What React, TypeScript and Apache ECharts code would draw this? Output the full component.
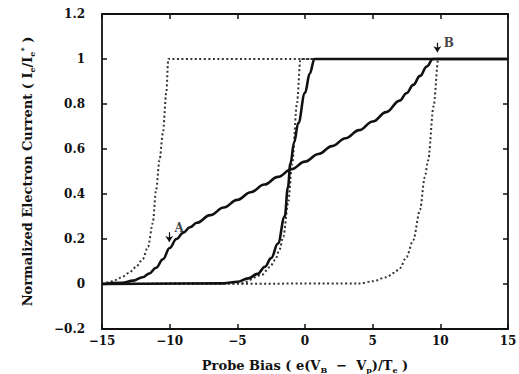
import React, { useEffect, useRef } from "react";
import * as echarts from "echarts";

// x range / ticks
const xMin = -15;
const xMax = 15;
const xStep = 5;
const yMin = -0.2;
const yMax = 1.2;
const yStep = 0.2;

// Dotted reference curves [x, y]
const dottedLeft: [number, number][] = [
  [-15, 0], [-14.5, 0.008], [-14, 0.018], [-13.5, 0.032], [-13, 0.05], [-12.5, 0.075],
  [-12, 0.11], [-11.6, 0.165], [-11.25, 0.27], [-11, 0.42], [-10.75, 0.55], [-10.5, 0.67],
  [-10.25, 0.85], [-10.1, 1], [15, 1],
];
const dottedMiddle: [number, number][] = [
  [-15, 0], [-4.7, 0.003], [-3.2, 0.04], [-2.6, 0.075], [-2.2, 0.107], [-1.9, 0.15], [-1.6, 0.21],
  [-1.25, 0.36], [-0.94, 0.536], [-0.6, 0.8], [-0.33, 1], [15, 1],
];
const dottedRight: [number, number][] = [
  [-15, 0], [4, 0.002], [5, 0.012], [6, 0.03], [6.6, 0.05], [7, 0.07], [7.5, 0.12],
  [8, 0.195], [8.5, 0.33], [8.85, 0.475], [9.1, 0.55], [9.5, 0.79], [9.85, 1], [15, 1],
];

// Solid measured curves [x, y]
const solidSteep: [number, number][] = [
  [-15, 0], [-6, 0.003], [-5, 0.01], [-4.2, 0.025], [-3.5, 0.045], [-2.96, 0.077],
  [-2.5, 0.115], [-2, 0.18], [-1.5, 0.3], [-1.26, 0.43], [-1.08, 0.535], [-0.8, 0.63],
  [-0.5, 0.715], [0, 0.85], [0.35, 0.935], [0.7, 1], [15, 1],
];
const solidGradual: [number, number][] = [
  [-15, 0], [-13.5, 0.005], [-12.7, 0.015], [-12, 0.03], [-11.5, 0.047], [-11, 0.072],
  [-10.5, 0.11], [-10, 0.16], [-9.5, 0.2], [-9, 0.228], [-8.5, 0.252], [-8, 0.272],
  [-7, 0.306], [-6, 0.34], [-5, 0.374], [-4, 0.408], [-3, 0.442], [-2, 0.476], [-1, 0.51],
  [0, 0.544], [1, 0.578], [2, 0.613], [3, 0.648], [4, 0.684], [5, 0.722], [6, 0.764],
  [7, 0.815], [7.5, 0.848], [8, 0.885], [8.5, 0.925], [9, 0.967], [9.45, 1], [15, 1],
];

// Annotations: arrow tail/tip and label position in data coordinates
const annLabels = ["A", "B"];
const annArrowX = [-10.03, 9.78];
const annArrowTail = [0.23, 1.072];
const annArrowTip = [0.187, 1.03];
const annTextX = [-9.3, 10.62];
const annTextY = [0.25, 1.072];

const FONT = "'DejaVu Serif', serif";
const INK = "#111";

const fmtNum = (v: number) => {
  const n = Number(v.toFixed(1));
  return n < 0 ? "\u2212" + Math.abs(n) : String(n);
};

export default function App() {
  const ref = useRef<HTMLDivElement>(null);

  useEffect(() => {
    if (!ref.current) return;
    const chart = echarts.init(ref.current, undefined, { renderer: "svg" });

    const axisLine = { show: true, onZero: false, lineStyle: { color: INK, width: 1.8 } };
    const axisTick = { show: true, inside: true, length: 5, lineStyle: { color: INK, width: 1.5 } };

    const nameRich = {
      n: { fontFamily: FONT, fontWeight: "bold", fontSize: 13, color: INK, lineHeight: 17 },
      s: { fontFamily: FONT, fontWeight: "bold", fontSize: 8, color: INK, verticalAlign: "bottom", lineHeight: 10 },
      u: { fontFamily: FONT, fontWeight: "bold", fontSize: 8, color: INK, verticalAlign: "top", lineHeight: 10 },
    };
    const nameStyle = { fontFamily: FONT, fontWeight: "bold", fontSize: 13, color: INK, rich: nameRich };

    const dotted = (data: [number, number][]) => ({
      type: "line",
      data,
      showSymbol: false,
      smooth: 0.3,
      smoothMonotone: "x",
      lineStyle: { color: "#333", width: 2, type: [2, 2.5] },
      z: 2,
    });
    const solid = (data: [number, number][]) => ({
      type: "line",
      data,
      showSymbol: false,
      smooth: 0.4,
      smoothMonotone: "x",
      lineStyle: { color: INK, width: 2.6 },
      z: 3,
    });

    const arrows = annLabels.map((_, i) => [
      { coord: [annArrowX[i], annArrowTail[i]] },
      { coord: [annArrowX[i], annArrowTip[i]] },
    ]);
    const labels = annLabels.map((t, i) => [annTextX[i], annTextY[i], t]);

    chart.setOption({
      animation: false,
      backgroundColor: "#fff",
      grid: { left: 102, right: 11, top: 14, bottom: 45, containLabel: false, outerBoundsMode: "none" },
      xAxis: [
        {
          type: "value",
          min: xMin,
          max: xMax,
          interval: xStep,
          position: "bottom",
          axisLine,
          axisTick,
          splitLine: { show: false },
          axisLabel: { fontFamily: FONT, fontWeight: "bold", fontSize: 12, color: INK, margin: 6, formatter: fmtNum },
          name: "{n|Probe Bias ( e(V}{s|B}{n|  \u2212  V}{s|p}{n|)/T}{s|e}{n| )}",
          nameLocation: "middle",
          nameGap: 28,
          nameTextStyle: nameStyle,
        },
        {
          type: "value",
          min: xMin,
          max: xMax,
          interval: xStep,
          position: "top",
          axisLine,
          axisTick,
          splitLine: { show: false },
          axisLabel: { show: false },
        },
      ],
      yAxis: [
        {
          type: "value",
          min: yMin,
          max: yMax,
          interval: yStep,
          position: "left",
          axisLine,
          axisTick,
          splitLine: { show: false },
          axisLabel: { fontFamily: FONT, fontWeight: "bold", fontSize: 12, color: INK, margin: 17, formatter: fmtNum },
          name: "{n|Normalized Electron Current ( I}{s|e}{n|/I}{s|e}{u|*}{n| )}",
          nameLocation: "middle",
          nameGap: 66,
          nameTextStyle: nameStyle,
        },
        {
          type: "value",
          min: yMin,
          max: yMax,
          interval: yStep,
          position: "right",
          axisLine,
          axisTick,
          splitLine: { show: false },
          axisLabel: { show: false },
        },
      ],
      series: [
        dotted(dottedLeft),
        dotted(dottedMiddle),
        dotted(dottedRight),
        solid(solidSteep),
        {
          ...solid(solidGradual),
          markLine: {
            silent: true,
            symbol: ["none", "arrow"],
            symbolSize: [6, 6],
            label: { show: false },
            lineStyle: { color: INK, width: 1.2, type: "solid" },
            data: arrows,
          },
        },
        {
          type: "scatter",
          data: labels,
          symbolSize: 0,
          silent: true,
          label: {
            show: true,
            position: "inside",
            formatter: (p: any) => p.data[2],
            fontFamily: FONT,
            fontWeight: "bold",
            fontSize: 12,
            color: INK,
          },
          z: 4,
        },
      ],
    });

    return () => chart.dispose();
  }, []);

  return (
    <div
      ref={ref}
      style={{ position: "absolute", left: 0, top: 0, width: 519, height: 374, background: "#fff" }}
    />
  );
}
